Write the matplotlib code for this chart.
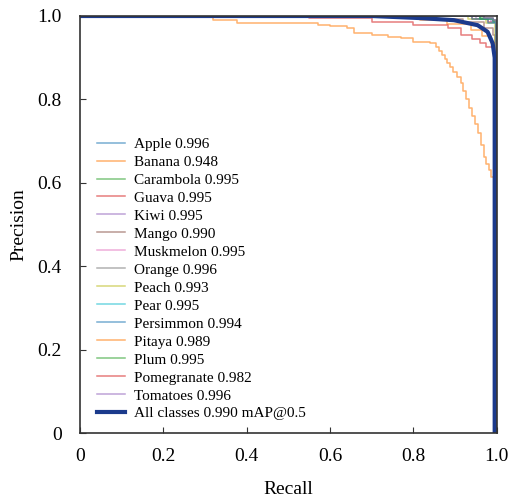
import matplotlib
matplotlib.use("Agg")
import matplotlib.pyplot as plt

plt.rcParams["font.family"] = ["Liberation Serif", "DejaVu Serif"]

"class names and ap values"
names = ["Apple", "Banana", "Carambola", "Guava", "Kiwi", "Mango", "Muskmelon",
         "Orange", "Peach", "Pear", "Persimmon", "Pitaya", "Plum",
         "Pomegranate", "Tomatoes"]
ap = [0.996, 0.948, 0.995, 0.995, 0.995, 0.990, 0.995,
      0.996, 0.993, 0.995, 0.994, 0.989, 0.995, 0.982, 0.996]
map50 = 0.990

"pr points read off the picture (step corners)"
apple_r = [0.0, 0.92, 0.97, 0.99, 0.998, 0.998]
apple_p = [1.0, 1.0, 0.993, 0.985, 0.97, 0.0]
banana_r = [0.0, 0.32, 0.377, 0.57, 0.60, 0.64, 0.657, 0.70, 0.74, 0.77, 0.80, 0.84,
            0.855, 0.861, 0.868, 0.875, 0.88, 0.888, 0.895, 0.905, 0.913, 0.92,
            0.927, 0.933, 0.94, 0.947, 0.954, 0.961, 0.969, 0.975, 0.981, 0.986,
            0.993, 0.998, 0.998]
banana_p = [1.0, 0.990, 0.984, 0.978, 0.975, 0.971, 0.959, 0.954, 0.95, 0.947, 0.938, 0.935,
            0.925, 0.915, 0.906, 0.897, 0.887, 0.878, 0.866, 0.854, 0.84, 0.82,
            0.80, 0.78, 0.76, 0.74, 0.719, 0.69, 0.662, 0.645, 0.63, 0.614,
            0.511, 0.10, 0.0]
carambola_r = [0.0, 0.90, 0.96, 0.99, 0.999, 0.999]
carambola_p = [1.0, 1.0, 0.995, 0.99, 0.98, 0.0]
guava_r = [0.0, 0.85, 0.94, 0.98, 0.997, 0.997]
guava_p = [1.0, 1.0, 0.992, 0.985, 0.965, 0.0]
kiwi_r = [0.0, 0.88, 0.95, 0.985, 0.998, 0.998]
kiwi_p = [1.0, 1.0, 0.994, 0.985, 0.975, 0.0]
mango_r = [0.0, 0.60, 0.82, 0.92, 0.97, 0.99, 0.996, 0.996]
mango_p = [1.0, 1.0, 0.993, 0.985, 0.972, 0.955, 0.945, 0.0]
muskmelon_r = [0.0, 0.90, 0.96, 0.99, 0.999, 0.999]
muskmelon_p = [1.0, 1.0, 0.994, 0.988, 0.978, 0.0]
orange_r = [0.0, 0.93, 0.97, 0.99, 0.999, 0.999]
orange_p = [1.0, 1.0, 0.996, 0.99, 0.983, 0.0]
peach_r = [0.0, 0.85, 0.93, 0.975, 0.995, 0.995]
peach_p = [1.0, 1.0, 0.993, 0.983, 0.97, 0.0]
pear_r = [0.0, 0.90, 0.96, 0.99, 0.998, 0.998]
pear_p = [1.0, 1.0, 0.994, 0.986, 0.975, 0.0]
persimmon_r = [0.0, 0.86, 0.94, 0.98, 0.997, 0.997]
persimmon_p = [1.0, 1.0, 0.993, 0.984, 0.968, 0.0]
pitaya_r = [0.0, 0.70, 0.817, 0.88, 0.937, 0.965, 0.985, 0.997, 0.997]
pitaya_p = [1.0, 1.0, 0.990, 0.98, 0.966, 0.952, 0.935, 0.92, 0.0]
plum_r = [0.0, 0.90, 0.96, 0.99, 0.998, 0.998]
plum_p = [1.0, 1.0, 0.994, 0.987, 0.976, 0.0]
pomegranate_r = [0.0, 0.55, 0.70, 0.80, 0.882, 0.913, 0.94, 0.96, 0.975, 0.99, 0.996, 0.996]
pomegranate_p = [1.0, 0.995, 0.986, 0.978, 0.971, 0.954, 0.945, 0.935, 0.925, 0.914, 0.905, 0.0]
tomatoes_r = [0.0, 0.93, 0.97, 0.99, 0.999, 0.999]
tomatoes_p = [1.0, 1.0, 0.996, 0.99, 0.982, 0.0]
all_r = [0.0, 0.70, 0.817, 0.897, 0.954, 0.978, 0.99, 0.995, 0.995]
all_p = [1.0, 1.0, 0.995, 0.990, 0.978, 0.962, 0.935, 0.90, 0.0]

recalls = [apple_r, banana_r, carambola_r, guava_r, kiwi_r, mango_r, muskmelon_r,
           orange_r, peach_r, pear_r, persimmon_r, pitaya_r, plum_r,
           pomegranate_r, tomatoes_r]
precisions = [apple_p, banana_p, carambola_p, guava_p, kiwi_p, mango_p, muskmelon_p,
              orange_p, peach_p, pear_p, persimmon_p, pitaya_p, plum_p,
              pomegranate_p, tomatoes_p]

fig = plt.figure(figsize=(5.09, 5.00), dpi=100)
ax = fig.add_axes([0.157, 0.134, 0.819, 0.834])

colors = plt.get_cmap("tab10").colors
for i in range(len(names)):
    ax.plot(recalls[i], precisions[i], lw=1.1, color=colors[i % 10], alpha=0.6,
            drawstyle="steps-post", label="%s %.3f" % (names[i], ap[i]))
ax.plot(all_r, all_p, lw=3, color="#1b3a8c",
        label="All classes %.3f mAP@0.5" % map50)

ax.set_xlim(0, 1)
ax.set_ylim(0, 1)
ticks = [0, 0.2, 0.4, 0.6, 0.8, 1.0]
labels = ["0", "0.2", "0.4", "0.6", "0.8", "1.0"]
ax.set_xticks(ticks)
ax.set_xticklabels(labels)
ax.set_yticks(ticks)
ax.set_yticklabels(labels)
ax.tick_params(direction="in", length=4, labelsize=14, color="#333333")
ax.tick_params(axis="x", pad=11)
ax.tick_params(axis="y", pad=13)
ax.set_xlabel("Recall", fontsize=14, labelpad=11)
ax.set_ylabel("Precision", fontsize=14, labelpad=7)
for s in ax.spines.values():
    s.set_color("#333333")
    s.set_linewidth(1.2)

ax.legend(loc="lower left", bbox_to_anchor=(0.041, 0.03), frameon=False,
          fontsize=11, labelspacing=0.28, handlelength=1.85, handletextpad=0.55,
          borderpad=0, borderaxespad=0)

fig.savefig("out.png", dpi=100)
